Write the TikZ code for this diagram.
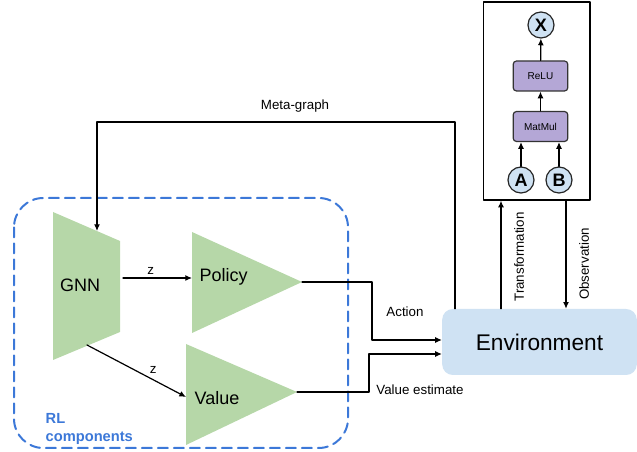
\documentclass[tikz,border=0pt]{standalone}
\usepackage{fontspec}
\setmainfont{Liberation Sans}
\usetikzlibrary{positioning,arrows.meta}
\definecolor{nngreen}{HTML}{B6D7A8}
\definecolor{envblue}{HTML}{CFE2F3}
\definecolor{oplav}{HTML}{B4A7D6}
\definecolor{rlblue}{HTML}{3C78D8}
\tikzset{
  conn/.style={line width=0.9pt},
  lbl/.style={font=\fontsize{10}{12}\selectfont},
  nnlabel/.style={font=\fontsize{13.5}{16}\selectfont},
  opbox/.style={draw=black!80, fill=oplav, rounded corners=2.5pt, line width=0.9pt, minimum width=41pt, minimum height=22.5pt, inner sep=0pt, font=\fontsize{7.5}{8}\selectfont},
  tensor/.style={draw=black!85, fill=envblue, circle, line width=0.9pt, minimum size=19.5pt, inner sep=0pt, font=\bfseries\fontsize{13.5}{14}\selectfont},
  envbox/.style={fill=envblue, rounded corners=8pt, minimum width=146pt, minimum height=49.5pt, font=\fontsize{17}{20}\selectfont},
}
\begin{document}
\begin{tikzpicture}[x=0.75pt,y=-0.75pt,>={Latex[length=5pt,width=4.5pt]}, line cap=round, line join=round]
	\useasboundingbox (0,0) rectangle (637,452);
	% RL components
	\draw[rlblue, dashed, dash pattern=on 7.5pt off 4.5pt, line width=1.5pt, rounded corners=22pt] (14,198) rectangle (348,448);
	\node[font=\bfseries\fontsize{11}{13.5}\selectfont, text=rlblue, align=left, anchor=north west] (rllbl) at (41,409) {RL\\components};
	\fill[nngreen] (53,212) -- (120,241) -- (120,332) -- (53,360) -- cycle;
	\fill[nngreen] (192,232) -- (302,282) -- (192,333) -- cycle;
	\fill[nngreen] (186,344) -- (297,392) -- (186,445) -- cycle;
	\node[nnlabel] (gnn) at (80,285) {GNN};
	\node[nnlabel, anchor=west] (policy) at (195,277) {Policy};
	\node[nnlabel, anchor=west] (value) at (190,398) {Value};
	\coordinate (gnntop) at (97,231);
	\coordinate (gnnout) at (123,278);
	\coordinate (gnnlow) at (87,345);
	\coordinate (polin) at (192,278);
	\coordinate (polout) at (302,282);
	\coordinate (valin) at (186,397);
	\coordinate (valout) at (297,392);
	\draw[conn,->] (gnnout) -- (polin) node[lbl, pos=.4, above=-1pt] {z};
	\draw[conn,->] (gnnlow) -- (valin) node[lbl, pos=.67, above=1pt] {z};
	% environment and graph
	\node[envbox] (env) at (539.5,342) {Environment};
	\node[draw, line width=1pt, minimum width=80pt, minimum height=148.5pt, inner sep=0pt] (graph) at (536.5,101) {};
	\node[tensor] (x) at (541,25) {X};
	\node[opbox] (relu) at (540.5,76) {ReLU};
	\node[opbox] (matmul) at (540.5,126.5) {MatMul};
	\node[tensor] (a) at (521,180) {A};
	\node[tensor] (b) at (559,180) {B};
	\draw[conn,->] (a) -- (a |- matmul.south);
	\draw[conn,->] (b) -- (b |- matmul.south);
	\draw[conn,->] (matmul) -- (relu);
	\draw[conn,->] (relu) -- (x);
	\coordinate (trans) at (501,0);
	\coordinate (obs) at (566,0);
	\coordinate (meta) at (455,0);
	\coordinate (metatop) at (97,122);
	\draw[conn,->] (trans |- env.north) -- (trans |- graph.south);
	\draw[conn,->] (obs |- graph.south) -- (obs |- env.north);
	\node[lbl, rotate=90] (translbl) at (519,257) {Transformation};
	\node[lbl, rotate=90] (obslbl) at (584,264) {Observation};
	\draw[conn,->] (meta |- env.north) -- (meta |- metatop) -- (metatop) -- (gnntop);
	\node[lbl] (metalbl) at (295,106) {Meta-graph};
	\coordinate (actbend) at (372,340);
	\coordinate (valbend) at (369,354);
	\draw[conn,->] (polout) -| (actbend) -- (actbend -| env.west);
	\draw[conn,->] (valout) -| (valbend) -- (valbend -| env.west);
	\node[lbl] (actlbl) at (405,312) {Action};
	\node[lbl] (vallbl) at (420,390) {Value estimate};
\end{tikzpicture}
\end{document}
